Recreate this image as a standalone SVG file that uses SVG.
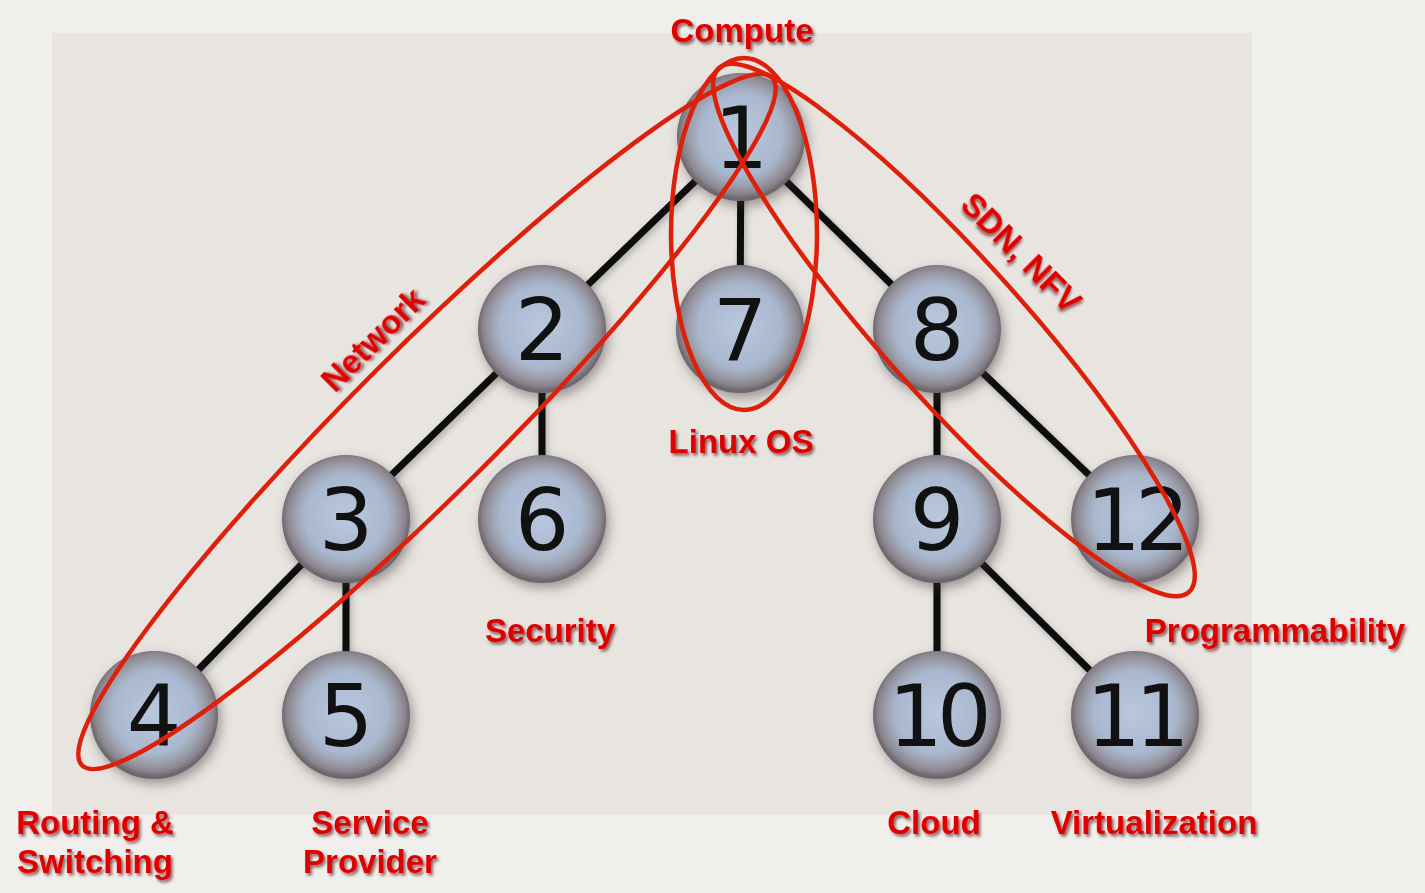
<svg xmlns="http://www.w3.org/2000/svg" width="1425" height="893" viewBox="0 0 1425 893">
<defs>
<radialGradient id="ng" cx="50%" cy="48%" r="50%">
<stop offset="0%" stop-color="#b9c8de"/>
<stop offset="64%" stop-color="#a9b8cf"/>
<stop offset="78%" stop-color="#9ea3b0"/>
<stop offset="92%" stop-color="#8b8690"/>
<stop offset="100%" stop-color="#6e686e"/>
</radialGradient>
<filter id="sh" x="-30%" y="-30%" width="160%" height="160%">
<feGaussianBlur stdDeviation="6"/>
</filter>
<filter id="ts" x="-10%" y="-30%" width="120%" height="160%">
<feDropShadow dx="2" dy="2.5" stdDeviation="1.5" flood-color="#4a0000" flood-opacity="0.6"/>
</filter>
<filter id="ls" x="-5%" y="-5%" width="110%" height="110%">
<feDropShadow dx="2" dy="3" stdDeviation="3" flood-color="#000" flood-opacity="0.25"/>
</filter>
</defs>
<style>
.node circle.body{fill:url(#ng)}
.node circle.shadow{fill:#3a3030;opacity:0.45;filter:url(#sh)}
.node text{font-family:"DejaVu Sans",sans-serif;font-size:86px;fill:#111;text-anchor:middle}
.edge{stroke:#0c0c0c;stroke-width:7;stroke-linecap:butt}
.ring{fill:none;stroke:#de1f0a;stroke-width:4.5}
.lbl{font-family:"Liberation Sans",Arial,sans-serif;font-weight:bold;font-size:33px;fill:#e00000;text-anchor:middle;filter:url(#ts)}
</style>
<rect x="0" y="0" width="1425" height="893" fill="#f1efec"/>
<rect x="52" y="33" width="1200" height="782" fill="#e8e5e1"/>
<g id="connectors" filter="url(#ls)">
<line class="edge" x1="741" y1="137" x2="542" y2="329"/>
<line class="edge" x1="741" y1="137" x2="740" y2="329"/>
<line class="edge" x1="741" y1="137" x2="937" y2="329"/>
<line class="edge" x1="542" y1="329" x2="346" y2="519"/>
<line class="edge" x1="542" y1="329" x2="542" y2="519"/>
<line class="edge" x1="346" y1="519" x2="154" y2="715"/>
<line class="edge" x1="346" y1="519" x2="346" y2="715"/>
<line class="edge" x1="937" y1="329" x2="937" y2="519"/>
<line class="edge" x1="937" y1="329" x2="1135" y2="519"/>
<line class="edge" x1="937" y1="519" x2="937" y2="715"/>
<line class="edge" x1="937" y1="519" x2="1135" y2="715"/>
</g>
<g id="node1" class="node"><circle class="shadow" cx="744" cy="142" r="64"/><circle class="body" cx="741" cy="137" r="64"/><text x="741" y="168">1</text></g>
<g id="node2" class="node"><circle class="shadow" cx="545" cy="334" r="64"/><circle class="body" cx="542" cy="329" r="64"/><text x="542" y="360">2</text></g>
<g id="node7" class="node"><circle class="shadow" cx="743" cy="334" r="64"/><circle class="body" cx="740" cy="329" r="64"/><text x="740" y="360">7</text></g>
<g id="node8" class="node"><circle class="shadow" cx="940" cy="334" r="64"/><circle class="body" cx="937" cy="329" r="64"/><text x="937" y="360">8</text></g>
<g id="node3" class="node"><circle class="shadow" cx="349" cy="524" r="64"/><circle class="body" cx="346" cy="519" r="64"/><text x="346" y="550">3</text></g>
<g id="node6" class="node"><circle class="shadow" cx="545" cy="524" r="64"/><circle class="body" cx="542" cy="519" r="64"/><text x="542" y="550">6</text></g>
<g id="node9" class="node"><circle class="shadow" cx="940" cy="524" r="64"/><circle class="body" cx="937" cy="519" r="64"/><text x="937" y="550">9</text></g>
<g id="node12" class="node"><circle class="shadow" cx="1138" cy="524" r="64"/><circle class="body" cx="1135" cy="519" r="64"/><text x="1135" y="550" letter-spacing="-6">12</text></g>
<g id="node4" class="node"><circle class="shadow" cx="157" cy="720" r="64"/><circle class="body" cx="154" cy="715" r="64"/><text x="154" y="746">4</text></g>
<g id="node5" class="node"><circle class="shadow" cx="349" cy="720" r="64"/><circle class="body" cx="346" cy="715" r="64"/><text x="346" y="746">5</text></g>
<g id="node10" class="node"><circle class="shadow" cx="940" cy="720" r="64"/><circle class="body" cx="937" cy="715" r="64"/><text x="937" y="746" letter-spacing="-6">10</text></g>
<g id="node11" class="node"><circle class="shadow" cx="1138" cy="720" r="64"/><circle class="body" cx="1135" cy="715" r="64"/><text x="1135" y="746" letter-spacing="-6">11</text></g>
<g id="groups">
<ellipse class="ring" cx="427" cy="421.5" rx="487" ry="72" transform="rotate(-44.9 427 421.5)"/>
<ellipse class="ring" cx="744" cy="234" rx="73" ry="176"/>
<ellipse class="ring" cx="954" cy="330" rx="352" ry="70" transform="rotate(48.1 954 330)"/>
</g>
<g id="labels">
<text class="lbl" x="742" y="42" font-size="32">Compute</text>
<text class="lbl" x="741" y="453" font-size="32">Linux OS</text>
<text class="lbl" x="373" y="351" font-size="32" transform="rotate(-45 373 340)">Network</text>
<text class="lbl" x="1021" y="264" font-size="32" transform="rotate(45 1021 253)">SDN, NFV</text>
<text class="lbl" x="550" y="642">Security</text>
<text class="lbl" x="1275" y="642">Programmability</text>
<text class="lbl" x="95" y="834">Routing &amp;</text>
<text class="lbl" x="95" y="873">Switching</text>
<text class="lbl" x="370" y="834">Service</text>
<text class="lbl" x="370" y="873">Provider</text>
<text class="lbl" x="934" y="834">Cloud</text>
<text class="lbl" x="1154" y="834">Virtualization</text>
</g>
</svg>
